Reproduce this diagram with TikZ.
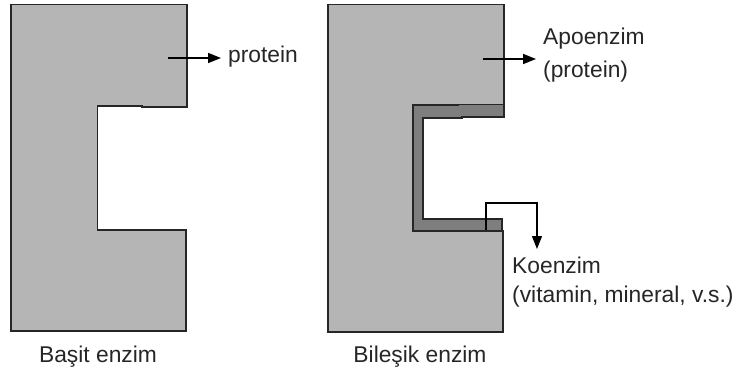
\documentclass[tikz,border=0pt]{standalone}
\usepackage{fontspec}
\setmainfont{Liberation Sans}
\usetikzlibrary{arrows.meta}
\definecolor{bodygray}{HTML}{B5B5B5}
\definecolor{bandgray}{HTML}{7E7E7E}
\definecolor{edge}{HTML}{262626}
\tikzset{
  enzyme/.style={fill=bodygray, draw=edge, line width=1.8pt, line join=miter},
  band/.style={fill=bandgray, draw=edge, line width=1.6pt},
  pointer/.style={draw=black, line width=1.6pt, -{Triangle[length=13pt,width=10pt]}},
  label/.style={font=\fontsize{22.8}{27}\selectfont, text=black!85, inner sep=0pt},
}
\begin{document}
\begin{tikzpicture}[x=1pt, y=-1pt]
\useasboundingbox (0,0) rectangle (736,377);

% simple enzyme: one protein block with a notch
\draw[enzyme] (11,4.5) -- (187,4.5) -- (187,107) -- (142,107) -- (142,106)
  -- (97.5,106) -- (97.5,230) -- (186,230) -- (186,331) -- (11,331) -- cycle;
\coordinate (p1) at (168,58);
\node[label, anchor=west] (prot) at (228,57) {protein};
\draw[pointer, shorten >=7pt] (p1) -- (p1 -| prot.west);
\node[label] (basit) at (98,357) {Başit enzim};

% compound enzyme: apoenzyme block with the coenzyme lining the notch
\draw[enzyme] (328,4.5) -- (504,4.5) -- (504,106) -- (413,106) -- (413,231)
  -- (503,231) -- (503,332) -- (328,332) -- cycle;
\draw[band] (413,105) -- (458,105) -- (458,104.5) -- (504,104.5) -- (504,117)
  -- (462,117) -- (462,118) -- (423,118) -- (423,219) -- (502,219) -- (502,231)
  -- (413,231) -- cycle;
\coordinate (p2) at (483,59);
\coordinate (p2end) at (536,59);
\node[label, anchor=west] (apo) at (543,39) {Apoenzim};
\node[label, anchor=west] (apop) at (543,72) {(protein)};
\draw[pointer] (p2) -- (p2end);

\coordinate (k0) at (486,230);
\coordinate (k1) at (537,249);
\node[label, anchor=west] (koe) at (512,265) {Koenzim};
\node[label, anchor=west] (koep) at (512,297) {(vitamin, mineral, v.s.)};
\draw[pointer, line width=1.3pt] (k0) -- (486,203) -| (k1);

\node[label] (bilesik) at (420,357) {Bileşik enzim};
\end{tikzpicture}
\end{document}
